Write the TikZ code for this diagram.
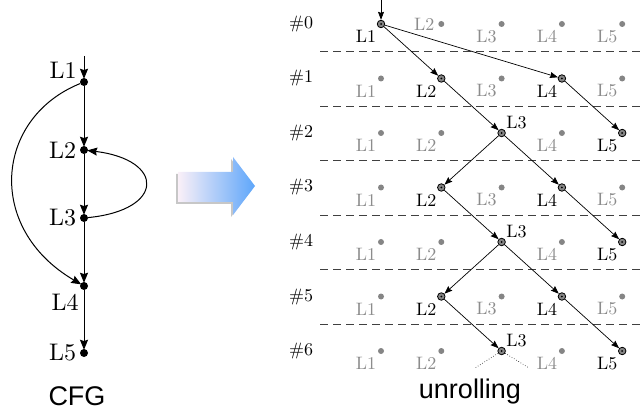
\documentclass[tikz,border=0pt]{standalone}
\usepackage{fontspec}
\newfontfamily\capfont{Liberation Sans}
\newfontfamily\labfont{lmroman10-regular}[Extension=.otf]
\usetikzlibrary{arrows.meta}
\definecolor{dimgray}{HTML}{8C8C8C}
\definecolor{dotgray}{HTML}{858585}
\definecolor{arrowleft}{HTML}{FAF0F8}
\definecolor{arrowright}{HTML}{5EA6FA}
\begin{document}
\begin{tikzpicture}[x=1pt,y=-1pt,
  cdot/.style={circle,fill=black,inner sep=0pt,minimum size=8pt},
  cedge/.style={line width=1pt,-{Stealth[length=10pt,width=8pt,inset=1.2pt]},shorten >=-1pt},
  clab/.style={inner sep=0pt,font=\labfont\fontsize{24}{28}\selectfont},
  gdot/.style={circle,fill=dotgray,inner sep=0pt,minimum size=6pt},
  adot/.style={circle,fill=dotgray,draw=black,line width=0.8pt,inner sep=0pt,minimum size=7.5pt,
    path picture={\fill[black] (path picture bounding box.center) circle (1pt);}},
  uedge/.style={line width=0.7pt,-{Stealth[length=8pt,width=6pt,inset=1pt]}},
  lab/.style={inner sep=0pt,font=\labfont\fontsize{18}{21}\selectfont},
  sepline/.style={dashed,dash pattern=on 8pt off 5pt,line width=0.8pt,draw=black!75},
  captext/.style={inner sep=0pt,font=\capfont\fontsize{27}{30}\selectfont}]
\useasboundingbox (0,0) rectangle (644,411);

% ---- control flow graph ----
\node[cdot] (c1) at (84,82) {};
\node[cdot] (c2) at (84,150) {};
\node[cdot] (c3) at (84,218) {};
\node[cdot] (c4) at (84,286) {};
\node[cdot] (c5) at (84,353) {};
\node[clab] at (63,70) {L1};
\node[clab] at (62.5,150) {L2};
\node[clab] at (62.5,218) {L3};
\node[clab] at (65,302) {L4};
\node[clab] at (62.5,353) {L5};
\coordinate (cin) at (84,56);
\draw[cedge] (cin) -- (c1);
\draw[cedge] (c1) -- (c2);
\draw[cedge] (c2) -- (c3);
\draw[cedge] (c3) -- (c4);
\draw[cedge] (c4) -- (c5);
\draw[cedge] (c1) .. controls (-5,118) and (-15,228) .. (c4);
\draw[cedge] (c3) .. controls (165,210) and (165,160) .. (c2);
\node[captext] at (77,396) {CFG};

% ---- transformation arrow ----
\fill[black!22] (176,174) -- (231,174) -- (231,159) -- (253,188) -- (231,217) -- (231,204) -- (176,204) -- cycle;
\shade[left color=arrowleft,right color=arrowright]
  (178,172) -- (233,172) -- (233,157) -- (255,186) -- (233,215) -- (233,202) -- (178,202) -- cycle;

% ---- unrolled graph ----
\foreach \k in {0,...,5}
  \draw[sepline] (320,{51.5+54.5*\k}) -- (644,{51.5+54.5*\k});
\foreach \r in {0,...,6}{
  \pgfmathsetmacro\yy{24+54.5*\r}
  \node[lab] (row\r) at (301,\yy) {\#\r};
  \foreach \c in {1,...,5}{
    \pgfmathsetmacro\xx{381+60.3*(\c-1)}
    \pgfmathtruncatemacro\isact{((\r==0)&&(\c==1)) || ((\r>0)&&isodd(\r)&&((\c==2)||(\c==4))) || ((\r>0)&&iseven(\r)&&((\c==3)||(\c==5)))}
    \ifnum\isact=1
      \node[adot] (n\r\c) at (\xx,\yy) {};
      \ifnum\c=3
        \node[lab] at (\xx+15,\yy-10) {L\c};
      \else
        \node[lab] at (\xx-15,\yy+12.5) {L\c};
      \fi
    \else
      \node[gdot] (n\r\c) at (\xx,\yy) {};
      \ifnum\r=0 \ifnum\c=2
        \node[lab,text=dimgray] at (\xx-17,\yy) {L\c};
      \else
        \node[lab,text=dimgray] at (\xx-15,\yy+12.5) {L\c};
      \fi \else
        \node[lab,text=dimgray] at (\xx-15,\yy+12.5) {L\c};
      \fi
    \fi
  }
}
\coordinate (uin) at (381,0);
\draw[uedge] (uin) -- (n01);
\draw[uedge] (n01) -- (n12);
\draw[uedge] (n01) -- (n14);
\draw[uedge] (n12) -- (n23);
\draw[uedge] (n14) -- (n25);
\draw[uedge] (n23) -- (n32);
\draw[uedge] (n23) -- (n34);
\draw[uedge] (n32) -- (n43);
\draw[uedge] (n34) -- (n45);
\draw[uedge] (n43) -- (n52);
\draw[uedge] (n43) -- (n54);
\draw[uedge] (n52) -- (n63);
\draw[uedge] (n54) -- (n65);
\coordinate (tl) at (475,368);
\coordinate (tr) at (529,368);
\draw[dotted,line width=0.6pt] (n63) -- (tl);
\draw[dotted,line width=0.6pt] (n63) -- (tr);
\node[captext] at (470,392) {unrolling};
\end{tikzpicture}
\end{document}
